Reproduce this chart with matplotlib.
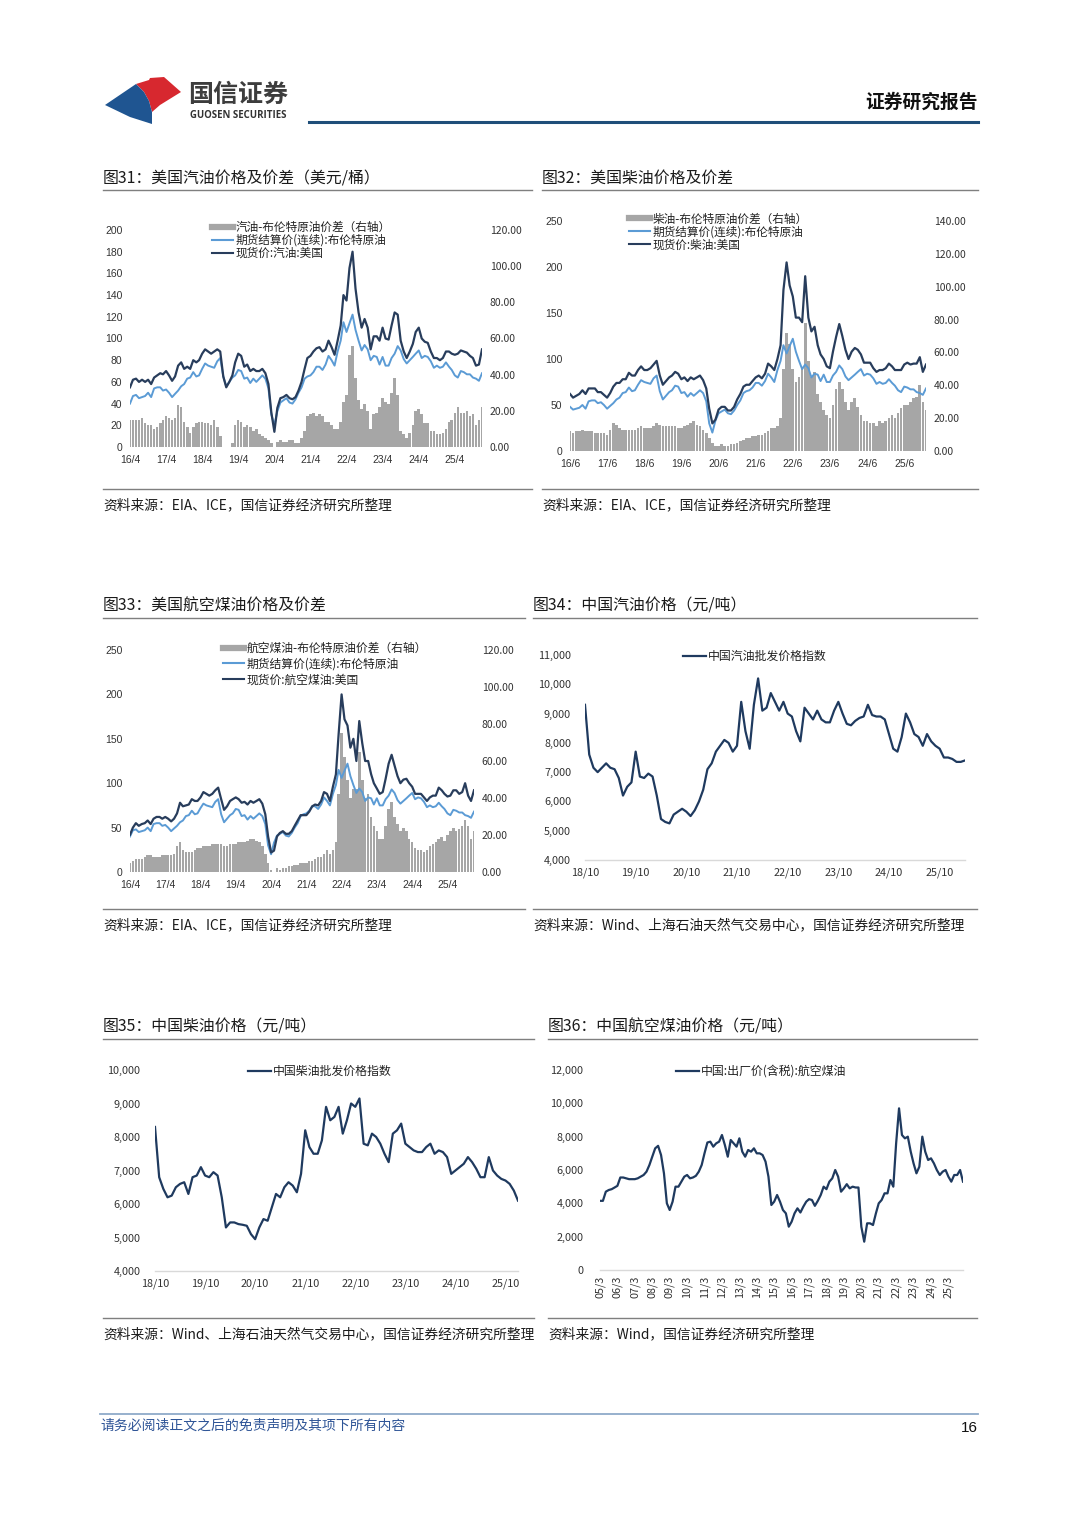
import matplotlib
matplotlib.use('Agg')
import matplotlib.pyplot as plt
import numpy as np
import pandas as pd
from matplotlib.lines import Line2D
from matplotlib.patches import Polygon
from matplotlib.ticker import FuncFormatter

plt.rcParams['font.family'] = ['Noto Sans CJK SC', 'DejaVu Sans']

# ---------------- DATA ----------------
# monthly, 2016-04 .. 2026-01
brent = [40, 47, 48, 45, 46, 47, 50, 46, 54,
         55, 55, 52, 53, 50, 46, 49, 52, 56, 58, 63, 64,
         69, 65, 66, 72, 77, 75, 74, 73, 79, 82, 65, 56,
         60, 64, 66, 71, 70, 63, 64, 59, 63, 60, 63, 66,
         63, 54, 30, 20, 33, 41, 43, 45, 41, 40, 44, 50,
         55, 63, 65, 66, 69, 74, 74, 71, 76, 84, 80, 75,
         88, 98, 115, 106, 114, 122, 108, 98, 89, 94, 90, 80,
         84, 83, 76, 83, 75, 75, 82, 86, 93, 89, 81, 77,
         80, 83, 86, 89, 82, 84, 83, 79, 73, 75, 73, 74,
         78, 74, 71, 66, 64, 70, 69, 67, 67, 64, 63, 61,
         68]
gasoline_us = [55, 62, 63, 60, 62, 60, 62, 58, 64,
               66, 68, 67, 70, 66, 61, 65, 75, 78, 72, 74, 72,
               80, 78, 80, 86, 90, 88, 86, 88, 90, 88, 65, 55,
               60, 66, 78, 86, 84, 74, 76, 70, 72, 70, 70, 72,
               68, 58, 32, 14, 36, 45, 46, 48, 45, 44, 46, 52,
               60, 72, 82, 84, 88, 91, 92, 88, 90, 98, 92, 85,
               98, 112, 140, 135, 165, 180, 146, 124, 110, 118, 110, 90,
               102, 102, 98, 110, 100, 99, 112, 124, 122, 98, 88, 82,
               88, 95, 106, 110, 100, 97, 96, 88, 82, 82, 80, 82,
               88, 88, 86, 85, 86, 89, 88, 87, 84, 82, 75, 76,
               90]
gasoline_spread = [15, 15, 15, 15, 16, 13, 12, 12, 10,
                   11, 13, 15, 17, 16, 15, 16, 23, 22, 14, 11, 8,
                   11, 13, 14, 14, 13, 13, 12, 15, 11, 6, 0, 0,
                   0, 2, 12, 15, 14, 11, 12, 11, 9, 10, 7, 6,
                   5, 4, 2, 0, 3, 4, 3, 3, 4, 4, 2, 2,
                   5, 9, 17, 18, 19, 17, 18, 17, 14, 14, 12, 10,
                   10, 14, 25, 29, 51, 56, 38, 26, 21, 24, 20, 10,
                   18, 19, 22, 27, 25, 24, 30, 38, 29, 9, 7, 5,
                   8, 12, 20, 21, 18, 13, 13, 9, 9, 7, 7, 8,
                   10, 14, 15, 19, 22, 19, 19, 20, 17, 18, 12, 15,
                   22]
# monthly, 2016-06 .. 2026-01
diesel_us = [62, 58, 60, 62, 66, 62, 68,
             68, 68, 64, 64, 61, 58, 63, 70, 74, 74, 78, 78,
             85, 82, 82, 88, 92, 88, 88, 90, 94, 98, 82, 72,
             76, 80, 82, 86, 84, 78, 80, 76, 80, 78, 80, 82,
             77, 68, 46, 30, 34, 45, 48, 48, 44, 44, 48, 56,
             62, 70, 72, 72, 76, 80, 82, 79, 84, 95, 92, 88,
             100, 115, 175, 205, 180, 168, 145, 145, 140, 190, 145, 130,
             135, 115, 105, 100, 92, 90, 108, 124, 138, 125, 110, 100,
             108, 112, 110, 105, 96, 96, 96, 90, 86, 88, 88, 90,
             95, 92, 88, 88, 88, 94, 96, 94, 95, 95, 102, 86,
             94]
diesel_spread = [12, 11, 12, 12, 13, 12, 12,
                 12, 11, 11, 11, 11, 10, 13, 17, 16, 14, 13, 13,
                 13, 13, 13, 14, 15, 14, 14, 14, 15, 17, 16, 15,
                 15, 15, 15, 15, 14, 14, 15, 16, 17, 18, 16, 15,
                 13, 11, 8, 5, 3, 3, 4, 3, 3, 4, 4, 5,
                 6, 7, 8, 8, 9, 9, 10, 10, 11, 12, 14, 14,
                 15, 20, 50, 72, 65, 50, 42, 45, 50, 78, 55, 45,
                 48, 35, 30, 25, 22, 20, 28, 38, 42, 38, 30, 25,
                 30, 32, 27, 22, 18, 18, 17, 17, 15, 18, 17, 18,
                 20, 22, 20, 23, 26, 28, 28, 30, 32, 33, 40, 30,
                 25]
# monthly, 2016-04 .. 2026-01
jet_us = [42, 50, 55, 52, 54, 55, 58, 54, 60,
          62, 62, 60, 62, 60, 57, 60, 66, 78, 74, 75, 76,
          82, 80, 80, 84, 90, 88, 86, 88, 92, 95, 82, 70,
          74, 80, 82, 84, 82, 78, 79, 76, 80, 78, 80, 82,
          77, 65, 40, 22, 24, 40, 44, 46, 43, 43, 46, 52,
          58, 64, 64, 64, 68, 74, 76, 75, 80, 90, 88, 80,
          96, 110, 155, 200, 172, 165, 140, 150, 125, 170, 145, 125,
          125, 110, 100, 94, 88, 90, 105, 122, 132, 120, 108, 100,
          104, 105, 100, 96, 88, 88, 88, 84, 80, 84, 86, 86,
          95, 92, 88, 85, 86, 92, 92, 88, 90, 100, 86, 80,
          92]
jet_spread = [5, 6, 7, 7, 7, 8, 9, 9, 8,
              8, 8, 9, 9, 9, 9, 10, 14, 16, 12, 11, 11,
              11, 12, 13, 13, 14, 14, 14, 15, 15, 15, 15, 14,
              14, 15, 15, 15, 16, 16, 16, 17, 18, 18, 17, 16,
              14, 10, 5, 1, 0, 2, 1, 2, 2, 3, 3, 4,
              4, 5, 5, 5, 6, 6, 7, 8, 8, 10, 12, 10,
              12, 16, 42, 75, 62, 50, 40, 45, 45, 65, 50, 40,
              42, 30, 25, 22, 18, 18, 25, 34, 38, 30, 26, 22,
              24, 22, 18, 16, 13, 12, 12, 11, 12, 14, 15, 16,
              18, 19, 17, 20, 22, 24, 22, 23, 25, 28, 25, 18,
              22]

# China gasoline wholesale index, monthly from 18/10
cn_gasoline = [9300, 7600, 7150, 7000, 7150, 7300, 7150, 7100, 6800, 6200,
               6500, 6650, 7700, 6850, 6800, 6950, 6850, 6200, 5400, 5300,
               5250, 5550, 5650, 5750, 5650, 5500, 5700, 6000, 6400, 7100,
               7300, 7700, 7900, 8100, 8000, 7700, 7900, 9400, 8400, 7800,
               9300, 10200, 9100, 9200, 9700, 9400, 9100, 9400, 9000, 8900,
               8400, 8050, 9200, 9000, 8800, 9100, 8800, 8700, 8700, 9100,
               9400, 9000, 8650, 8600, 8750, 8850, 8900, 9300, 8950, 8900,
               8900, 8800, 8300, 7800, 7700, 8200, 9000, 8700, 8300, 8200,
               7900, 8300, 8050, 7900, 7800, 7500, 7500, 7450, 7350, 7350,
               7400]
# China diesel wholesale index, monthly from 18/10
cn_diesel = [8300, 6800, 6450, 6200, 6250, 6500, 6600, 6650, 6300, 6800,
             6850, 7100, 6850, 6800, 6950, 6850, 6200, 5300, 5450, 5450,
             5400, 5380, 5350, 5100, 4950, 5300, 5550, 5500, 5900, 6300,
             6200, 6500, 6650, 6550, 6350, 6900, 8200, 7700, 7500, 7500,
             7900, 8900, 8500, 8600, 8900, 8100, 8500, 9000, 8900, 9150,
             7800, 7750, 8100, 8000, 7800, 7500, 7250, 8100, 8200, 8400,
             7800, 7700, 7600, 7550, 7550, 7700, 7800, 7500, 7600, 7550,
             7400, 6900, 7000, 7100, 7200, 7400, 7250, 7050, 6800, 6800,
             7400, 7000, 6850, 6750, 6700, 6600, 6400, 6100]
cn_month_labels = ['18/10', '19/10', '20/10', '21/10', '22/10', '23/10', '24/10', '25/10']
# China jet fuel ex-factory price, every 2 months from 2005-03
cn_jet = [4150, 4150, 4700, 4800, 4850, 4950, 5050, 5550, 5550, 5500,
          5450, 5450, 5450, 5500, 5600, 5700, 5900, 6300, 6800, 7300,
          7450, 6900, 5800, 4000, 3600, 4100, 5000, 5000, 5300, 5600,
          5700, 5500, 5550, 5650, 5900, 6300, 7000, 7650, 7700, 7400,
          7600, 7700, 8100, 7500, 6800, 7800, 7600, 7400, 7900, 7100,
          6800, 7200, 7100, 7300, 7000, 7000, 6900, 6500, 5600, 3900,
          4100, 4500, 4100, 3600, 3400, 2600, 2900, 3400, 3700, 3450,
          3800, 4100, 4250, 4200, 3850, 4150, 4500, 5000, 4850, 5300,
          5500, 6000, 5600, 4700, 4900, 5150, 4900, 5000, 4950, 4950,
          2600, 1700, 2800, 2800, 2700, 3400, 4000, 4200, 4600, 4600,
          5400, 5000, 7600, 9700, 8100, 7900, 8000, 7100, 6400, 5800,
          6200, 8000, 7100, 6600, 6700, 6400, 6000, 5700, 5900, 6000,
          5600, 5300, 5700, 5700, 6000, 5300]

us_dates = pd.date_range('2016-04-01', periods=len(brent), freq='MS')
jet_dates = pd.date_range('2005-03-01', periods=len(cn_jet), freq='2MS')

# ---------------- STYLE ----------------
NAVY = '#283d5c'
BLUE = '#5b9bd5'
GRAY = '#a6a6a6'
LINE_CN = '#1f3a5f'
TXT = '#1a1a1a'

W, H = 1080, 1527
fig = plt.figure(figsize=(W / 100, H / 100), dpi=100)


def fx(x):
    return x / W


def fy(y):
    return 1 - y / H


def axes_px(l, t, r, b):
    return fig.add_axes([fx(l), fy(b), (r - l) / W, (b - t) / H])


def hline(x1, x2, y, color='#7f7f7f', lw=1.0):
    fig.add_artist(Line2D([fx(x1), fx(x2)], [fy(y), fy(y)], transform=fig.transFigure,
                          color=color, lw=lw))


def text(x, y, s, size=10, ha='left', color=TXT, **kw):
    fig.text(fx(x), fy(y), s, fontsize=size, ha=ha, va='center', color=color, **kw)


# ---------------- HEADER ----------------
red = Polygon([(fx(136), fy(84)), (fx(149), fy(80)), (fx(150), fy(78)), (fx(164), fy(77)),
               (fx(181), fy(92)), (fx(160), fy(105)), (fx(152), fy(112)), (fx(149), fy(101)),
               (fx(144), fy(92))],
              closed=True, transform=fig.transFigure, color='#d7282f', lw=0)
blue_p = Polygon([(fx(105), fy(105)), (fx(136), fy(84)), (fx(144), fy(92)), (fx(149), fy(101)),
                  (fx(152), fy(112)), (fx(152), fy(124)), (fx(130), fy(117))],
                 closed=True, transform=fig.transFigure, color='#1f5591', lw=0)
fig.add_artist(red)
fig.add_artist(blue_p)
text(188, 95, '国信证券', size=18, color='#3d3d3d', weight='bold')
text(190, 115, 'GUOSEN SECURITIES', size=6.9, color='#333333', weight='bold',
     family=['Open Sans', 'DejaVu Sans'])
text(978, 102, '证券研究报告', size=13.5, ha='right', color='#111111', weight='bold')
hline(309, 978, 122, color='#1f4e79', lw=2.2)

# ---------------- FOOTER ----------------
hline(100, 978, 1414, color='#8faac9', lw=1.3)
text(100, 1426, '请务必阅读正文之后的免责声明及其项下所有内容', size=10, color='#2f5597', style='italic')
text(978, 1428, '16', size=11, ha='right', color='#111111', family=['Liberation Sans', 'DejaVu Sans'])


# ---------------- CHART HELPERS ----------------
def frame(title, source, x1, x2, y_title, y_tline, y_sline, y_src):
    text(x1, y_title + 1.5, title, size=11.4)
    hline(x1, x2, y_tline)
    hline(x1, x2, y_sline)
    text(x1, y_src, source, size=9.9)


def dual_chart(box, dates, navy, blue, spread, lmax, lstep, rmax, rstep, tick_month,
               labels, leg_xy, leg_spacing, leg_size):
    ax = axes_px(*box)
    ax2 = ax.twinx()
    ax2.bar(dates, spread, width=26, color=GRAY, linewidth=0, align='center')
    ax.plot(dates, blue, color=BLUE, lw=1.4)
    ax.plot(dates, navy, color=NAVY, lw=1.6)
    ax.set_zorder(ax2.get_zorder() + 1)
    ax.patch.set_visible(False)
    ax.set_xlim(dates[0], dates[-1])
    ax.set_ylim(0, lmax)
    ax2.set_ylim(0, rmax)
    ax.set_yticks(np.arange(0, lmax + 1, lstep))
    ax2.set_yticks(np.arange(0, rmax + 0.1, rstep))
    ax2.yaxis.set_major_formatter(FuncFormatter(lambda v, p: f'{v:.2f}'))
    tick_dates = [pd.Timestamp(y, tick_month, 1) for y in range(2016, 2026)]
    ax.set_xticks(tick_dates, labels=[f'{y % 100}/{tick_month}' for y in range(2016, 2026)])
    for a in (ax, ax2):
        for s in a.spines.values():
            s.set_visible(False)
    ax.tick_params(axis='both', length=0, labelsize=7.5, colors='#333333', pad=5.5)
    ax2.tick_params(axis='y', length=0, labelsize=7.5, colors='#333333', pad=5.5)
    for lab in ax.get_xticklabels() + ax.get_yticklabels():
        lab.set_family(['Liberation Sans', 'DejaVu Sans'])
    handles = [Line2D([], [], color=GRAY, lw=4.5), Line2D([], [], color=BLUE, lw=1.5),
               Line2D([], [], color=NAVY, lw=1.5)]
    leg = ax.legend(handles, labels, loc='upper left', bbox_to_anchor=(fx(leg_xy[0]), fy(leg_xy[1])),
                    bbox_transform=fig.transFigure, frameon=False, fontsize=leg_size, handlelength=1.8,
                    handletextpad=0.2, labelspacing=leg_spacing, borderpad=0, borderaxespad=0)
    for t in leg.get_texts():
        t.set_color('#222222')
    return ax


def line_chart(box, x, y, ymin, ymax, ystep, xticks, xlabels, label, leg_xy, ypad, rot=0, xpad=5.5):
    ax = axes_px(*box)
    ax.plot(x, y, color=LINE_CN, lw=1.6)
    ax.set_xlim(x[0], x[-1])
    ax.set_ylim(ymin, ymax)
    ax.set_yticks(np.arange(ymin, ymax + 1, ystep))
    ax.yaxis.set_major_formatter(FuncFormatter(lambda v, p: f'{int(v):,}'))
    ax.set_xticks(xticks, labels=xlabels)
    for s in ('left', 'right', 'top'):
        ax.spines[s].set_visible(False)
    ax.spines['bottom'].set_color('#d9d9d9')
    ax.spines['bottom'].set_linewidth(1.0)
    ax.tick_params(axis='y', length=0, labelsize=7.8, colors='#333333', pad=ypad)
    ax.tick_params(axis='x', length=0, labelsize=7.8, colors='#333333', pad=xpad, labelrotation=rot)
    leg = ax.legend([Line2D([], [], color=LINE_CN, lw=1.6)], [label], loc='upper left',
                    bbox_to_anchor=(fx(leg_xy[0]), fy(leg_xy[1])), bbox_transform=fig.transFigure,
                    frameon=False, fontsize=8.6, handlelength=1.9, handletextpad=0.15,
                    borderpad=0, borderaxespad=0)
    for t in leg.get_texts():
        t.set_color('#222222')
    return ax


# ---------------- CHART 31 ----------------
frame('图31：美国汽油价格及价差（美元/桶）', '资料来源：EIA、ICE，国信证券经济研究所整理',
      103, 532, 177, 190, 489, 505)
dual_chart((130, 230, 482, 447), us_dates, gasoline_us, brent, gasoline_spread,
           200, 20, 120, 20, 4,
           ['汽油-布伦特原油价差（右轴）', '期货结算价(连续):布伦特原油', '现货价:汽油:美国'],
           (212, 221), 0.0, 8.4)

# ---------------- CHART 32 ----------------
frame('图32：美国柴油价格及价差', '资料来源：EIA、ICE，国信证券经济研究所整理',
      542, 978, 177, 190, 489, 505)
dual_chart((570, 221, 926, 451), us_dates[2:], diesel_us, brent[2:], diesel_spread,
           250, 50, 140, 20, 6,
           ['柴油-布伦特原油价差（右轴）', '期货结算价(连续):布伦特原油', '现货价:柴油:美国'],
           (629, 212.5), 0.0, 8.4)

# ---------------- CHART 33 ----------------
frame('图33：美国航空煤油价格及价差', '资料来源：EIA、ICE，国信证券经济研究所整理',
      103, 525, 605, 618, 909, 925)
dual_chart((130, 650, 474, 872), us_dates, jet_us, brent, jet_spread,
           250, 50, 120, 20, 4,
           ['航空煤油-布伦特原油价差（右轴）', '期货结算价(连续):布伦特原油', '现货价:航空煤油:美国'],
           (223, 642), 0.22, 8.5)

# ---------------- CHART 34 ----------------
frame('图34：中国汽油价格（元/吨）', '资料来源：Wind、上海石油天然气交易中心，国信证券经济研究所整理',
      533, 977, 605, 618, 909, 925)
line_chart((585, 655, 965, 860), np.arange(len(cn_gasoline)), cn_gasoline, 4000, 11000, 1000,
           np.arange(0, 85, 12), cn_month_labels, '中国汽油批发价格指数', (683, 650), ypad=10)

# ---------------- CHART 35 ----------------
frame('图35：中国柴油价格（元/吨）', '资料来源：Wind、上海石油天然气交易中心，国信证券经济研究所整理',
      103, 534, 1025, 1039, 1318, 1334)
line_chart((155, 1070, 518, 1271), np.arange(len(cn_diesel)), cn_diesel, 4000, 10000, 1000,
           np.arange(0, 85, 12), cn_month_labels, '中国柴油批发价格指数', (248, 1065), ypad=10.5)

# ---------------- CHART 36 ----------------
frame('图36：中国航空煤油价格（元/吨）', '资料来源：Wind，国信证券经济研究所整理',
      548, 977, 1025, 1039, 1318, 1334)
jet_ticks = [pd.Timestamp(y, 3, 1) for y in range(2005, 2026)]
jet_labels = [f'{y % 100:02d}/3' for y in range(2005, 2026)]
line_chart((600, 1070, 963, 1270), jet_dates, cn_jet, 0, 12000, 2000,
           jet_ticks, jet_labels, '中国:出厂价(含税):航空煤油', (676, 1065), ypad=12, rot=90, xpad=4)

fig.savefig('out.png', dpi=100)
